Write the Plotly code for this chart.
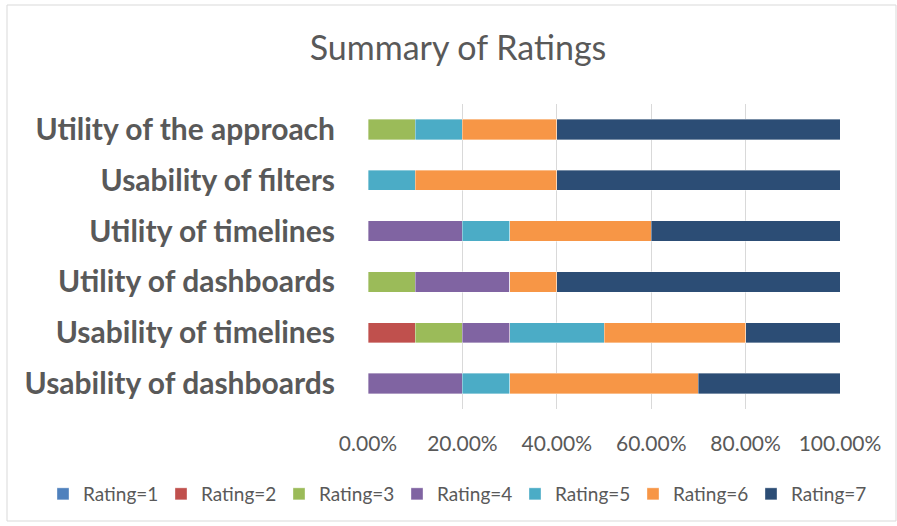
import plotly.graph_objects as go

categories = ["Usability of dashboards", "Usability of timelines", "Utility of dashboards",
              "Utility of timelines", "Usability of filters", "Utility of the approach"]
series_names = ["Rating=1", "Rating=2", "Rating=3", "Rating=4", "Rating=5", "Rating=6", "Rating=7"]
rating1 = [0.0, 0.0, 0.0, 0.0, 0.0, 0.0]
rating2 = [0.0, 0.1, 0.0, 0.0, 0.0, 0.0]
rating3 = [0.0, 0.1, 0.1, 0.0, 0.0, 0.1]
rating4 = [0.2, 0.1, 0.2, 0.2, 0.0, 0.0]
rating5 = [0.1, 0.2, 0.0, 0.1, 0.1, 0.1]
rating6 = [0.4, 0.3, 0.1, 0.3, 0.3, 0.2]
rating7 = [0.3, 0.2, 0.6, 0.4, 0.6, 0.6]
colors = ["#4F81BD", "#C0504D", "#9BBB59", "#8064A2", "#4BACC6", "#F79646", "#2C4D75"]
x_ticks = [0, 0.2, 0.4, 0.6, 0.8, 1.0]

values = [rating1, rating2, rating3, rating4, rating5, rating6, rating7]

FONT = "Lato"
GREY = "#595959"

# plot area in pixels
L, R, T, B = 368, 840, 104, 409
PW, PH = R - L, B - T

fig = go.Figure()
for name, vals, col in zip(series_names, values, colors):
    fig.add_trace(go.Bar(
        y=categories, x=vals, name=name, orientation="h",
        marker=dict(color=col, line=dict(color="rgba(255,255,255,0.6)", width=0.6)),
    ))

fig.update_layout(
    barmode="stack",
    bargap=0.6,
    width=897, height=526,
    margin=dict(l=L, r=897 - R, t=T, b=526 - B, autoexpand=False),
    paper_bgcolor="white", plot_bgcolor="white",
    title=dict(text="Summary of Ratings", x=458 / 897, xanchor="center", xref="container",
               y=1 - 48 / 526, yanchor="middle", yref="container",
               font=dict(family=FONT, size=34, color=GREY)),
    xaxis=dict(range=[0, 1], tickvals=x_ticks, tickformat=".2%",
               showgrid=True, gridcolor="#D9D9D9", gridwidth=1, zeroline=False,
               showline=False, ticks="", ticklen=0, ticklabelstandoff=20,
               tickfont=dict(family=FONT, size=21, color=GREY)),
    yaxis=dict(showgrid=False, zeroline=False, showline=False, ticks="",
               ticklabelstandoff=32,
               tickfont=dict(family=FONT, size=30, color=GREY, weight="bold")),
    legend=dict(orientation="h", xref="paper", x=(43 - L) / PW, xanchor="left",
                yref="paper", y=(B - 494) / PH, yanchor="middle",
                entrywidth=73, entrywidthmode="pixels", traceorder="normal",
                font=dict(family=FONT, size=19, color=GREY)),
    shapes=[dict(type="rect", xref="paper", yref="paper",
                 x0=(7 - L) / PW, x1=(896 - L) / PW,
                 y0=(B - 521) / PH, y1=(B - 5) / PH,
                 line=dict(color="#D9D9D9", width=1), fillcolor="rgba(0,0,0,0)",
                 layer="below")],
)

fig.write_html("out.html", config={"displayModeBar": False},
               post_script="document.body.style.margin='0';")
